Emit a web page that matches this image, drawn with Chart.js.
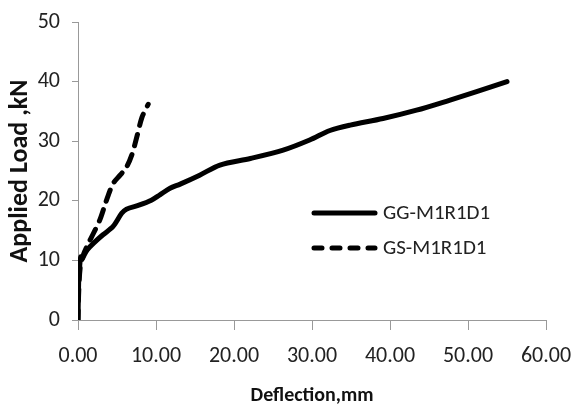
<!DOCTYPE html>
<html>
<head>
<meta charset="utf-8">
<script src="https://cdn.jsdelivr.net/npm/chart.js@4/dist/chart.umd.min.js"></script>
<style>
html,body{margin:0;padding:0;background:#fff;}
#wrap{width:572px;height:410px;}
</style>
</head>
<body>
<div id="wrap"><canvas id="c" width="572" height="410"></canvas></div>
<script>
const seriesNames = ['GG-M1R1D1', 'GS-M1R1D1'];
const ggDeflection = [0, 0.05, 0.1, 0.2, 0.35, 0.5, 0.8, 1.2, 2.0, 3.2, 4.5, 5.6, 6.2, 7.9, 9.4, 10.5, 11.8, 13.1, 15.6, 18.2, 22.1, 26.3, 29.7, 32.3, 34.9, 39.1, 43.4, 47.7, 51.1, 55.0];
const ggLoad       = [0, 4.0, 7.0, 8.8, 10.6, 10.2, 10.9, 11.8, 12.9, 14.3, 15.7, 17.9, 18.6, 19.3, 20.1, 21.0, 22.1, 22.8, 24.3, 26.0, 27.1, 28.5, 30.2, 31.8, 32.7, 33.8, 35.2, 36.9, 38.3, 40.0];
const gsDeflection = [0, 0.1, 0.3, 0.7, 1.2, 2.0, 2.8, 3.5, 3.9, 4.5, 5.4, 6.2, 6.9, 7.5, 8.2, 9.0];
const gsLoad       = [0, 5.0, 9.0, 11.0, 12.5, 14.6, 16.8, 19.5, 21.0, 22.9, 24.3, 25.6, 27.7, 30.5, 34.0, 36.2];
const xTicks = [0, 10, 20, 30, 40, 50, 60];
const yTicks = [0, 10, 20, 30, 40, 50];
const xTitle = 'Deflection,mm';
const yTitle = 'Applied Load ,kN';

const toPts = (xs, ys) => xs.map((x, i) => ({x: x, y: ys[i]}));
const FAM = 'Carlito, "Liberation Sans", sans-serif';
const tickFont = {family: FAM, size: 22};

const legendPlugin = {
  id: 'insideLegend',
  afterDatasetsDraw(chart) {
    const ctx = chart.ctx;
    const ys = [213, 248];
    chart.data.datasets.forEach((ds, i) => {
      const y = ys[i];
      ctx.save();
      ctx.strokeStyle = ds.borderColor;
      ctx.lineWidth = ds.borderWidth;
      ctx.lineCap = 'round';
      ctx.setLineDash(i === 1 ? [8, 10] : []);
      ctx.beginPath();
      ctx.moveTo(314, y);
      ctx.lineTo(375, y);
      ctx.stroke();
      ctx.setLineDash([]);
      ctx.fillStyle = '#222';
      ctx.font = '21px ' + FAM;
      ctx.textBaseline = 'middle';
      ctx.fillText(ds.label, 383, y + 1);
      ctx.restore();
    });
  }
};

new Chart(document.getElementById('c'), {
  type: 'scatter',
  data: {
    datasets: [
      {label: seriesNames[0], data: toPts(ggDeflection, ggLoad), showLine: true, borderColor: '#000', backgroundColor: '#000', borderWidth: 5, pointRadius: 0, tension: 0.3, borderCapStyle: 'round', borderJoinStyle: 'round'},
      {label: seriesNames[1], data: toPts(gsDeflection, gsLoad), showLine: true, borderColor: '#000', backgroundColor: '#000', borderWidth: 5, pointRadius: 0, tension: 0.3, borderDash: [12, 9], borderDashOffset: 2, borderCapStyle: 'round', borderJoinStyle: 'round'}
    ]
  },
  options: {
    responsive: false,
    animation: false,
    layout: {padding: {top: 22, right: 26, left: 0, bottom: 0}},
    plugins: {legend: {display: false}, tooltip: {enabled: false}},
    scales: {
      x: {
        type: 'linear', min: 0, max: 60,
        afterBuildTicks: s => { s.ticks = xTicks.map(v => ({value: v})); },
        afterFit: s => { s.height = 90; s.paddingLeft = 0; s.paddingRight = 0; },
        ticks: {callback: v => v.toFixed(2), font: tickFont, color: '#222', padding: 13, maxRotation: 0},
        grid: {drawOnChartArea: false, drawTicks: true, tickLength: 10, color: '#999'},
        border: {display: true, color: '#999', width: 1},
        title: {display: true, text: xTitle, font: {family: FAM, size: 20, weight: 'bold'}, color: '#111', padding: {top: 0, bottom: 2}}
      },
      y: {
        type: 'linear', min: 0, max: 50,
        afterBuildTicks: s => { s.ticks = yTicks.map(v => ({value: v})); },
        afterFit: s => { s.width = 78; s.paddingTop = 0; s.paddingBottom = 0; },
        ticks: {font: tickFont, color: '#222', padding: 12},
        grid: {drawOnChartArea: false, drawTicks: true, tickLength: 6, color: '#999'},
        border: {display: true, color: '#999', width: 1},
        title: {display: true, text: yTitle, font: {family: FAM, size: 26, weight: 'bold'}, color: '#111', padding: {top: 5, bottom: 0}}
      }
    }
  },
  plugins: [legendPlugin]
});
</script>
</body>
</html>
